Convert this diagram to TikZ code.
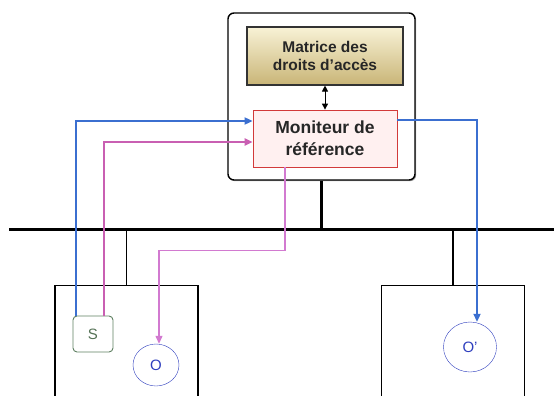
\documentclass[tikz,border=0pt]{standalone}
\usepackage{fontspec}
\setmainfont{Liberation Sans}
\usetikzlibrary{calc, arrows.meta, shapes.geometric, shadows}

\definecolor{bluflusso}{RGB}{59,111,208}
\definecolor{rosaflusso}{RGB}{201,95,178}
\definecolor{rosachiaro}{RGB}{210,122,208}
\definecolor{bluoggetto}{RGB}{47,63,190}
\definecolor{rossomon}{RGB}{210,58,58}
\definecolor{verdesogg}{RGB}{94,127,96}
\definecolor{orochiaro}{RGB}{248,242,214}
\definecolor{oroscuro}{RGB}{201,181,119}

\begin{document}
\begin{tikzpicture}[x=1pt, y=-1pt,
		punta/.style={-{Triangle[length=8pt, width=7pt]}},
		host/.style={draw, line width=1.1pt, minimum width=143pt, minimum height=130pt, inner sep=0pt},
		oggetto/.style={ellipse, draw=bluoggetto, thin, text=bluoggetto, inner sep=0pt, font=\fontsize{15}{15}\selectfont}]
			\useasboundingbox (0,0) rectangle (554,396);
			
			% Noyau: box esterno con ombra
			\node[draw, line width=1.4pt, rounded corners=6pt, minimum width=187pt, minimum height=167pt,
				drop shadow={shadow xshift=1.2pt, shadow yshift=-1.2pt, opacity=0.7}, fill=white] (noyau) at (321.5,96.5) {};
			
			% Matrice e moniteur
			\node[draw=black!80, line width=1.1pt, top color=orochiaro, bottom color=oroscuro,
				minimum width=156pt, minimum height=58pt, align=center, text=black!85,
				font=\bfseries\fontsize{15.5}{18}\selectfont] (matrice) at (325,56) {Matrice des\\droits d'accès};
			\node[draw=rossomon, thick, fill=red!6, minimum width=144pt, minimum height=57pt, align=center, text=black!85,
				font=\bfseries\fontsize{17.5}{22}\selectfont] (moniteur) at (325,138.5) {Moniteur de\\référence};
			\draw[{Triangle[length=6pt, width=6pt]}-{Triangle[length=6pt, width=6pt]}, line width=1pt] (matrice.south) -- (moniteur.north);
			
			% Bus
			\coordinate (busL) at (9,229);
			\coordinate (busR) at (554,229);
			\draw[line width=3pt] (busL) -- (busR);
			\draw[line width=3pt] (noyau.south) -- (noyau.south |- busL);
			
			% Macchine
			\node[host, anchor=north] (hostL) at (126.5,285) {};
			\node[host, anchor=north] (hostR) at (453,285) {};
			\draw[line width=1.1pt] (hostL.north) -- (hostL.north |- busL);
			\draw[line width=1.1pt] (hostR.north) -- (hostR.north |- busL);
			
			% Soggetto e oggetti
			\node[draw=verdesogg, line width=0.9pt, rounded corners=4pt, minimum width=40pt, minimum height=36pt, inner sep=0pt,
				text=verdesogg!90!black, font=\fontsize{15}{15}\selectfont] (S) at (93,334) {S};
			\node[oggetto, minimum width=46pt, minimum height=42pt] (O) at (156,365) {O};
			\node[oggetto, minimum width=53pt, minimum height=50pt] (Op) at (470,347) {O'};
			
			% Flussi
			\coordinate (sBlu) at ([xshift=3.5pt]S.north west);
			\coordinate (sRosa) at ([xshift=-9pt]S.north east);
			\draw[punta, bluflusso, line width=1.8pt] (sBlu) |- ([yshift=17.5pt]moniteur.west);
			\draw[punta, rosaflusso, line width=2pt] (sRosa) |- ([yshift=-3.5pt]moniteur.west);
			\draw[punta, rosachiaro, line width=1.3pt] ([xshift=-40pt]moniteur.south) -- ++(0,83) -| ([xshift=3pt]O.north);
			\draw[punta, bluflusso, line width=2pt] ([yshift=18.5pt]moniteur.east) -| ([xshift=7pt]Op.north);
		\end{tikzpicture}
\end{document}
